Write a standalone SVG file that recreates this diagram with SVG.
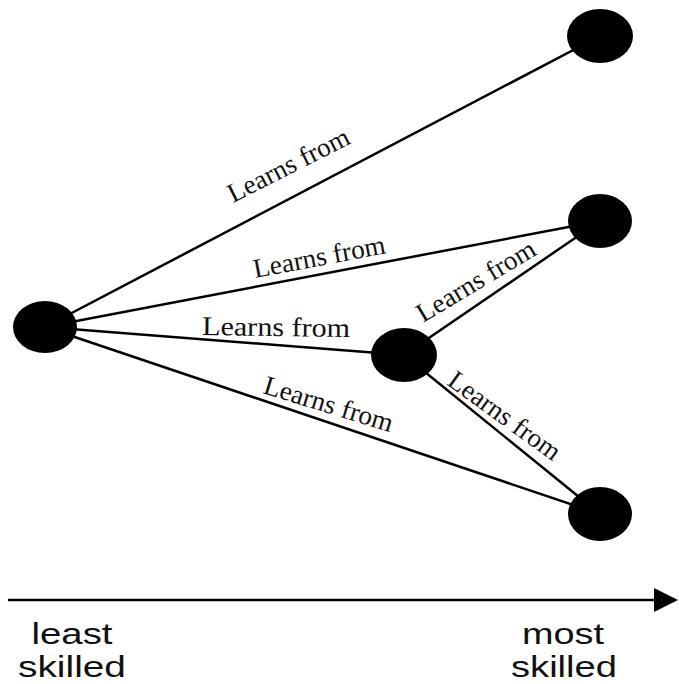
<svg xmlns="http://www.w3.org/2000/svg" width="679" height="684" viewBox="0 0 679 684">
  <style>
    .edge { stroke: #000; stroke-width: 2.5; fill: none; }
    .node { fill: #000; }
    .lbl { font-family: "Liberation Serif", "Times New Roman", serif; font-size: 27px; fill: #111; }
    .axis-lbl { font-family: "Liberation Sans", Arial, sans-serif; font-size: 30px; fill: #111; text-anchor: middle; }
  </style>

  <rect width="679" height="684" fill="#fff"/>

  <!-- connectors -->
  <g id="edges">
    <line class="edge" x1="45" y1="327" x2="600" y2="36"/>
    <line class="edge" x1="45" y1="327" x2="600" y2="221"/>
    <line class="edge" x1="45" y1="327" x2="404" y2="355"/>
    <line class="edge" x1="45" y1="327" x2="600" y2="514"/>
    <line class="edge" x1="404" y1="355" x2="600" y2="221"/>
    <line class="edge" x1="404" y1="355" x2="600" y2="514"/>
  </g>

  <!-- edge labels -->
  <g id="edge-labels">
    <text class="lbl" transform="translate(233,203) rotate(-26.8)" textLength="133" lengthAdjust="spacingAndGlyphs">Learns from</text>
    <text class="lbl" transform="translate(255,278) rotate(-10.7)" textLength="134" lengthAdjust="spacingAndGlyphs">Learns from</text>
    <text class="lbl" transform="translate(202,335) rotate(0.8)" textLength="148" lengthAdjust="spacingAndGlyphs">Learns from</text>
    <text class="lbl" transform="translate(423,323) rotate(-31)" textLength="134" lengthAdjust="spacingAndGlyphs">Learns from</text>
    <text class="lbl" transform="translate(262,393) rotate(17)" textLength="134" lengthAdjust="spacingAndGlyphs">Learns from</text>
    <text class="lbl" transform="translate(446,384) rotate(36)" textLength="132" lengthAdjust="spacingAndGlyphs">Learns from</text>
  </g>

  <!-- nodes -->
  <g id="node-left"><ellipse class="node" cx="45" cy="327" rx="32" ry="26"/></g>
  <g id="node-middle"><ellipse class="node" cx="404" cy="355" rx="33" ry="27"/></g>
  <g id="node-top-right"><ellipse class="node" cx="600" cy="36" rx="33" ry="27"/></g>
  <g id="node-mid-right"><ellipse class="node" cx="600" cy="221" rx="32" ry="27"/></g>
  <g id="node-bottom-right"><ellipse class="node" cx="600" cy="514" rx="32" ry="27"/></g>

  <!-- skill axis -->
  <g id="axis">
    <line x1="8" y1="600" x2="656" y2="600" stroke="#000" stroke-width="2.5"/>
    <path d="M654,588 L678,600 L654,612 Z" fill="#000"/>
    <text class="axis-lbl" x="72" y="644" textLength="81" lengthAdjust="spacingAndGlyphs">least</text>
    <text class="axis-lbl" x="72" y="677" textLength="108" lengthAdjust="spacingAndGlyphs">skilled</text>
    <text class="axis-lbl" x="563" y="644" textLength="82" lengthAdjust="spacingAndGlyphs">most</text>
    <text class="axis-lbl" x="564" y="677" textLength="106" lengthAdjust="spacingAndGlyphs">skilled</text>
  </g>
</svg>
